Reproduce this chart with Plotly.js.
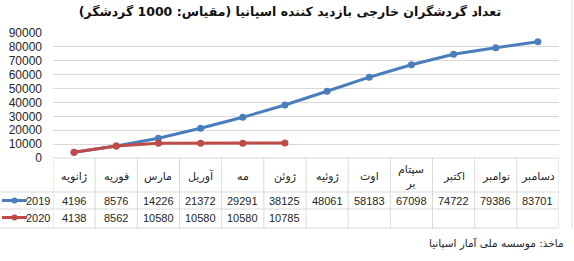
<!DOCTYPE html>
<html><head><meta charset="utf-8">
<script src="https://cdn.plot.ly/plotly-3.0.1.min.js"></script>
<style>html,body{margin:0;padding:0;background:#fff}</style>
</head><body><div id="chart" style="width:574px;height:261px"></div>
<script>
const months = ["ژانویه","فوریه","مارس","آوریل","مه","ژوئن","ژوئیه","اوت","سپتام<br>بر","اکتبر","نوامبر","دسامبر"];
const values2019 = [4196,8576,14226,21372,29291,38125,48061,58183,67098,74722,79386,83701];
const values2020 = [4138,8562,10580,10580,10580,10785];
const seriesNames = ["2019","2020"];
const seriesColors = ["#4A7EBB","#BE4B48"];
const yTicks = [0,10000,20000,30000,40000,50000,60000,70000,80000,90000];
const titleText = "تعداد گردشگران خارجی بازدید کننده اسپانیا (مقیاس: 1000 گردشگر)";
const sourceText = "ماخذ: موسسه ملی آمار اسپانیا";

const W = 574, H = 261, mL = 53, mR = 15, mT = 33, mB = 103;
const plotH = H - mT - mB;
const py = p => (H - mB - p) / plotH;           // pixel y -> paper y
const pxp = p => (p - mL) / (W - mL - mR);       // pixel x -> paper x

const traces = [values2019, values2020].map((vals, k) => ({
  type: 'scatter', mode: 'lines+markers', name: seriesNames[k],
  x: vals.map((_, i) => i), y: vals,
  line: {color: seriesColors[k], width: 3},
  marker: {color: seriesColors[k], size: 7}
}));

const gridCol = "#D9D9D9";
const shapes = [];
const annotations = [];
const fontFA = "DejaVu Sans, Tahoma, sans-serif";
const fontNum = "Liberation Sans, Arial, sans-serif";
const txtCol = "#262626";

const rowTop = 158, rowH1 = 192, rowH2 = 209, rowBot = 228;
shapes.push({type:'line', xref:'paper', yref:'paper', x0:0, x1:1, y0:py(rowTop), y1:py(rowTop), line:{color:gridCol, width:1}});
[rowH1, rowH2, rowBot].forEach(y => shapes.push({type:'line', xref:'paper', yref:'paper', x0:pxp(0), x1:1, y0:py(y), y1:py(y), line:{color:gridCol, width:1}}));
for (let i = 0; i <= months.length; i++) {
  shapes.push({type:'line', xref:'x', yref:'paper', x0:i-0.5, x1:i-0.5, y0:py(rowTop), y1:py(rowBot), line:{color:gridCol, width:1}});
}
shapes.push({type:'line', xref:'paper', yref:'paper', x0:pxp(572), x1:pxp(572), y0:py(0), y1:py(228), line:{color:gridCol, width:1}});

months.forEach((m, i) => annotations.push({xref:'x', yref:'paper', x:i, y:py(176), text:m, showarrow:false,
  font:{family:fontFA, size:11, color:txtCol}, xanchor:'center', yanchor:'middle'}));
[values2019, values2020].forEach((vals, k) => {
  const yy = k === 0 ? 200.5 : 217.5;
  vals.forEach((v, i) => annotations.push({xref:'x', yref:'paper', x:i, y:py(yy), text:String(v), showarrow:false,
    font:{family:fontNum, size:11, color:txtCol}, xanchor:'center', yanchor:'middle'}));
  annotations.push({xref:'paper', yref:'paper', x:pxp(52), y:py(yy), text:seriesNames[k], showarrow:false,
    font:{family:fontNum, size:11, color:txtCol}, xanchor:'right', yanchor:'middle'});
  shapes.push({type:'line', xref:'paper', yref:'paper', x0:pxp(2), x1:pxp(27), y0:py(yy), y1:py(yy), line:{color:seriesColors[k], width:3}});
  shapes.push({type:'circle', xref:'paper', yref:'paper', x0:pxp(11.5), x1:pxp(17.5), y0:py(yy+3), y1:py(yy-3), fillcolor:seriesColors[k], line:{width:0}});
});
annotations.push({xref:'paper', yref:'paper', x:pxp(566), y:py(243), text:sourceText, showarrow:false,
  font:{family:fontFA, size:10.5, color:txtCol}, xanchor:'right', yanchor:'middle'});

const layout = {
  width: W, height: H,
  margin: {l:mL, r:mR, t:mT, b:mB, pad:0},
  paper_bgcolor: '#fff', plot_bgcolor: '#fff',
  showlegend: false,
  title: {text: titleText, x: 0.505, xanchor:'center', y: 1 - 12/H, yanchor:'middle',
    font: {family: fontFA, size: 12.5, color: '#111', weight: 'bold'}},
  xaxis: {range: [-0.5, months.length - 0.5], showticklabels: false, showgrid: false, zeroline: false,
    showline: false, ticks: '', fixedrange: true},
  yaxis: {range: [0, 90000], tickvals: yTicks, ticktext: yTicks.map(String), showgrid: true, gridcolor: gridCol,
    gridwidth: 1, zeroline: false, showline: false, ticks: '', ticklabelstandoff: 10,
    tickfont: {family: fontNum, size: 12, color: txtCol}},
  shapes: shapes, annotations: annotations
};
Plotly.newPlot('chart', traces, layout, {staticPlot: true, displayModeBar: false});
</script></body></html>
